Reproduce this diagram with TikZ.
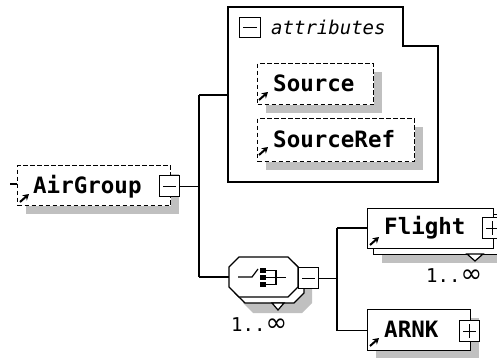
\documentclass[tikz,border=0pt]{standalone}
\usepackage{fontspec}
\newfontfamily\dmono{DejaVu Sans Mono}
\newfontfamily\dsans{DejaVu Sans}
\usetikzlibrary{arrows.meta,shadows}
\definecolor{shadowgray}{RGB}{192,192,192}
\tikzset{
  box/.style={draw=black, line width=1.2pt, fill=white, inner sep=0pt, anchor=north west},
  dbox/.style={box, dash pattern=on 4.5pt off 2.5pt},
  shad/.style={drop shadow={shadow xshift=8pt, shadow yshift=-8pt, fill=shadowgray, opacity=1}},
  pm/.style={draw=black, line width=1.2pt, fill=white, minimum width=20pt, minimum height=21pt, inner sep=0pt, anchor=north west},
  conn/.style={line width=1.2pt, draw=black},
  lbl/.style={anchor=base west, inner sep=0pt, font=\dmono\bfseries\fontsize{22.5}{22.5}\selectfont},
  occ/.style={anchor=base west, inner sep=0pt, font=\dmono\fontsize{19}{19}\selectfont},
  attrlbl/.style={anchor=base west, inner sep=0pt, font=\dmono\itshape\fontsize{19}{19}\selectfont},
  refarrow/.style={line width=2pt, -{Stealth[length=6pt,width=7pt]}},
}
\newcommand\octo[5]{\path[#1] (#2+10,#3) -- (#4-10,#3) -- (#4,#3+10) -- (#4,#5-10) -- (#4-10,#5) -- (#2+10,#5) -- (#2,#5-10) -- (#2,#3+10) -- cycle;}
\newcommand\infsym{{\dsans\fontsize{26}{26}\selectfont ∞}}
\begin{document}
\begin{tikzpicture}[x=1pt,y=-1pt]
\useasboundingbox[fill=white] (0,0) rectangle (497,358);
\clip (0,0) rectangle (497,358);

% junction coordinates
\coordinate (j1top) at (199,95);
\coordinate (j1bot) at (199,277);
\coordinate (attrw) at (228,95);
\coordinate (seqw) at (229,277);
\coordinate (j2top) at (337,228);
\coordinate (agtick) at (10,184);

% AirGroup
\node[dbox, shad, minimum width=153pt, minimum height=40pt] (ag) at (17,165) {};
\node[lbl] (agt) at (33,193) {AirGroup};
\draw[refarrow] (20,202) -- (29,194);
\draw[conn] (agtick) -- (agtick -| ag.west);
\node[pm] (agm) at (159,175) {};
\draw[conn] ([xshift=4pt]agm.west) -- ([xshift=-4pt]agm.east);

% connectors from AirGroup
\draw[conn] (agm.east) -- (agm.east -| j1top);
\draw[conn] (j1top) -- (j1bot);
\draw[conn] (j1top) -- (attrw);
\draw[conn] (j1bot) -- (seqw);

% attributes box
\draw[conn] (228,7) -- (403,7) -- (403,46) -- (438,46) -- (438,182) -- (228,182) -- cycle;
\node[pm, minimum width=21pt, minimum height=20pt] (attm) at (239,17) {};
\draw[conn] ([xshift=4pt]attm.west) -- ([xshift=-4pt]attm.east);
\node[attrlbl] (attt) at (271,35) {attributes};

% Source
\node[dbox, shad, minimum width=116pt, minimum height=41pt] (src) at (257,63) {};
\node[lbl] (srct) at (273,92) {Source};
\draw[refarrow] (259,100) -- (268,92);

% SourceRef
\node[dbox, shad, minimum width=157pt, minimum height=43pt] (srcr) at (257,118) {};
\node[lbl] (srcrt) at (273,147) {SourceRef};
\draw[refarrow] (259,155) -- (268,147);

% compositor (choice)
\octo{fill=shadowgray}{243}{273}{312}{313}
\octo{conn,fill=white}{235}{263}{304}{303}
\draw[conn, fill=white] (272,303) -- (284,303) -- (278,310) -- cycle;
\octo{conn,fill=white}{229}{257}{298}{297}
\draw[conn] (238,277) -- (252,277) -- (258,269);
\fill (260,268) rectangle (266,273);
\fill (260,275) rectangle (266,280);
\fill (260,282) rectangle (266,287);
\draw[conn] (266,270.5) -- (276,270.5) -- (276,284.5) -- (266,284.5);
\draw[conn] (266,277.5) -- (286,277.5);
\node[pm] (seqm) at (298,267) {};
\draw[conn] ([xshift=4pt]seqm.west) -- ([xshift=-4pt]seqm.east);
\node[occ] (seqocc) at (231,331) {1..\infsym};

% Flight
\node[box, shad, minimum width=126pt, minimum height=40pt] (flb) at (373,214) {};
\draw[conn, fill=white] (467,254) -- (483,254) -- (475,261) -- cycle;
\node[box, minimum width=126pt, minimum height=40pt] (fl) at (367,208) {};
\node[lbl] (flt) at (384,234) {Flight};
\draw[refarrow] (370,245) -- (379,237);
\node[pm] (flp) at (482,217) {};
\draw[conn] ([xshift=4pt]flp.west) -- ([xshift=-4pt]flp.east);
\draw[conn] ([yshift=-4pt]flp.north) -- ([yshift=4pt]flp.south);
\node[occ] (flocc) at (426,282) {1..\infsym};

% ARNK
\node[box, shad, minimum width=103pt, minimum height=41pt] (ar) at (367,309) {};
\node[lbl] (art) at (384,337) {ARNK};
\draw[refarrow] (370,346) -- (379,338);
\node[pm] (arp) at (459,320) {};
\draw[conn] ([xshift=4pt]arp.west) -- ([xshift=-4pt]arp.east);
\draw[conn] ([yshift=-4pt]arp.north) -- ([yshift=4pt]arp.south);

% connectors to Flight / ARNK
\draw[conn] (seqm.east) -- (seqm.east -| j2top);
\draw[conn] (j2top) -- (ar.west -| j2top) -- (ar.west);
\draw[conn] (j2top) -- (j2top -| fl.west);
\end{tikzpicture}
\end{document}
